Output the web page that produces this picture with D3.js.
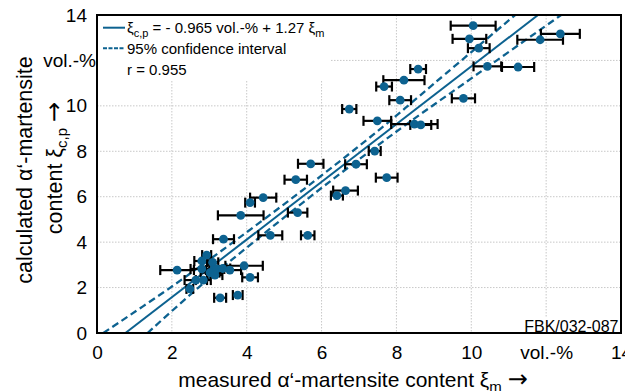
<!DOCTYPE html>
<html>
<head>
<meta charset="utf-8">
<script src="https://cdn.jsdelivr.net/npm/d3@7"></script>
<style>
  body { margin: 0; background: #fff; }
  svg text { font-family: "Liberation Sans", Arial, sans-serif; fill: #000; }
</style>
</head>
<body>
<div class="app"></div>
<script>
// measured vs calculated a'-martensite content (vol.-%)
var measured    = [10.05, 9.95, 10.20, 12.38, 11.84, 10.43, 11.25, 8.58, 8.20, 7.67,
                   8.10, 9.79, 6.74, 7.49, 8.48, 8.65, 7.42, 5.71, 6.92, 7.74,
                   6.64, 6.41, 5.31, 4.44, 4.09, 3.84, 5.36, 4.63, 5.63, 3.38,
                   2.14, 2.93, 2.80, 3.09, 2.80, 3.11, 3.02, 3.20, 3.36, 3.55,
                   3.93, 4.09, 2.64, 2.84, 2.48, 3.29, 3.76, 3.15];
var calculated  = [13.53, 12.95, 12.54, 13.17, 12.91, 11.74, 11.71, 11.62, 11.13, 10.85,
                   10.25, 10.33, 9.86, 9.34, 9.20, 9.16, 8.01, 7.45, 7.43, 6.84,
                   6.27, 6.05, 6.75, 5.96, 5.74, 5.18, 5.30, 4.30, 4.30, 4.13,
                   2.77, 3.43, 3.17, 3.11, 2.82, 2.77, 2.66, 2.82, 2.84, 2.77,
                   2.96, 2.45, 2.33, 2.33, 1.94, 1.55, 1.67, 2.55];
var errMeasured = [0.60, 0.45, 0.29, 0.52, 0.61, 0.37, 0.43, 0.21, 0.55, 0.21,
                   0.29, 0.31, 0.19, 0.37, 0.62, 0.28, 0.16, 0.34, 0.29, 0.29,
                   0.33, 0.16, 0.30, 0.35, 0.13, 0.61, 0.26, 0.32, 0.18, 0.28,
                   0.45, 0.12, 0.20, 0.15, 0.30, 0.20, 0.25, 0.20, 0.20, 0.30,
                   0.50, 0.21, 0.30, 0.20, 0.09, 0.16, 0.13, 0.20];

var tickValues = [0, 2, 4, 6, 8, 10, 12, 14];
var tickLabels = ["0", "2", "4", "6", "8", "10", "vol.-%", "14"];

// regression line from the legend
var fitIntercept = -0.965, fitSlope = 1.27;

// dashed 95% band: [measured, calculated]
var bandUpper = [[0.17, 0], [1.96, 2], [3.64, 4], [5.66, 6.5], [7.58, 9], [9.02, 11], [11.17, 14]];
var bandLower = [[1.35, 0], [2.71, 2], [4.18, 4], [6.09, 6.5], [8.11, 9], [9.82, 11], [12.40, 14]];

var blue = "#0d6290";
var font = "Liberation Sans, Arial, sans-serif";

var margin = {top: 15, left: 97},
    width = 524,
    height = 318;

var x = d3.scaleLinear().domain([0, 14]).range([0, width]);
var y = d3.scaleLinear().domain([0, 14]).range([height, 0]);

var svg = d3.select(".app").append("svg")
    .attr("width", 625)
    .attr("height", 391);

svg.append("rect").attr("width", 625).attr("height", 391).attr("fill", "#fff");

var g = svg.append("g")
    .attr("transform", "translate(" + margin.left + "," + margin.top + ")");

g.append("clipPath").attr("id", "plotclip")
  .append("rect").attr("width", width).attr("height", height);

// grid
var inner = tickValues.slice(1, -1);
g.append("g").selectAll("line").data(inner).enter().append("line")
    .attr("x1", function(d) { return x(d); }).attr("x2", function(d) { return x(d); })
    .attr("y1", 0).attr("y2", height)
    .attr("stroke", "#c8c8c8").attr("stroke-dasharray", "1.5,1.5");
g.append("g").selectAll("line").data(inner).enter().append("line")
    .attr("y1", function(d) { return y(d); }).attr("y2", function(d) { return y(d); })
    .attr("x1", 0).attr("x2", width)
    .attr("stroke", "#c8c8c8").attr("stroke-dasharray", "1.5,1.5");

// axes (labels only)
var xAxis = g.append("g")
    .attr("transform", "translate(0," + height + ")")
    .call(d3.axisBottom(x).tickValues(tickValues)
      .tickFormat(function(d, i) { return tickLabels[i]; })
      .tickSize(0).tickPadding(12.5));
var yAxis = g.append("g")
    .call(d3.axisLeft(y).tickValues(tickValues)
      .tickFormat(function(d, i) { return tickLabels[i]; })
      .tickSize(0).tickPadding(10));
[xAxis, yAxis].forEach(function(a) {
  a.select(".domain").remove();
  a.selectAll("text").attr("font-size", 19).attr("font-family", font).attr("fill", "#000");
});
yAxis.selectAll("text").filter(function(d) { return d === 12; }).attr("x", -1);

// lines
var plot = g.append("g").attr("clip-path", "url(#plotclip)");
var band = d3.line()
    .x(function(d) { return x(d[0]); })
    .y(function(d) { return y(d[1]); })
    .curve(d3.curveCatmullRom);
[bandUpper, bandLower].forEach(function(b) {
  plot.append("path").datum(b)
      .attr("d", band)
      .attr("fill", "none").attr("stroke", blue)
      .attr("stroke-width", 2.3).attr("stroke-dasharray", "7,4");
});
plot.append("line")
    .attr("x1", x((0 - fitIntercept) / fitSlope)).attr("y1", y(0))
    .attr("x2", x((14 - fitIntercept) / fitSlope)).attr("y2", y(14))
    .attr("stroke", blue).attr("stroke-width", 2);

// error bars
var bars = plot.append("g").selectAll("g").data(measured).enter().append("g")
    .attr("stroke", "#000").attr("stroke-width", 2.2);
bars.append("line")
    .attr("x1", function(d, i) { return x(d - errMeasured[i]); })
    .attr("x2", function(d, i) { return x(d + errMeasured[i]); })
    .attr("y1", function(d, i) { return y(calculated[i]); })
    .attr("y2", function(d, i) { return y(calculated[i]); });
[-1, 1].forEach(function(s) {
  bars.append("line")
      .attr("x1", function(d, i) { return x(d + s * errMeasured[i]); })
      .attr("x2", function(d, i) { return x(d + s * errMeasured[i]); })
      .attr("y1", function(d, i) { return y(calculated[i]) - 5; })
      .attr("y2", function(d, i) { return y(calculated[i]) + 5; });
});

// points
plot.append("g").selectAll("circle").data(measured).enter().append("circle")
    .attr("cx", function(d) { return x(d); })
    .attr("cy", function(d, i) { return y(calculated[i]); })
    .attr("r", 4.4)
    .attr("fill", blue);

// legend
var legend = g.append("g");
legend.append("rect").attr("x", 0).attr("y", 0).attr("width", 234).attr("height", 65).attr("fill", "#fff");
legend.append("line").attr("x1", 6).attr("x2", 28).attr("y1", 12.7).attr("y2", 12.7)
    .attr("stroke", blue).attr("stroke-width", 2);
legend.append("line").attr("x1", 6).attr("x2", 28).attr("y1", 33.3).attr("y2", 33.3)
    .attr("stroke", blue).attr("stroke-width", 2).attr("stroke-dasharray", "4,1.5");
var l1 = legend.append("text").attr("x", 30).attr("y", 18).attr("font-size", 15);
l1.append("tspan").text("ξ");
l1.append("tspan").attr("dy", 4).attr("font-size", 11).text("c,p");
l1.append("tspan").attr("dy", -4).text(" = - 0.965 vol.-% + 1.27 ξ");
l1.append("tspan").attr("dy", 4).attr("font-size", 11).text("m");
legend.append("text").attr("x", 30).attr("y", 39).attr("font-size", 15).text("95% confidence interval");
legend.append("text").attr("x", 30).attr("y", 60).attr("font-size", 15).text("r = 0.955");

// id label
g.append("rect").attr("x", width - 100).attr("y", height - 15).attr("width", 100).attr("height", 15).attr("fill", "#fff");
g.append("text").attr("x", width - 2.5).attr("y", height - 1.5)
    .attr("text-anchor", "end").attr("font-size", 16).text("FBK/032-087");

// frame
g.append("rect").attr("width", width).attr("height", height)
    .attr("fill", "none").attr("stroke", "#000").attr("stroke-width", 2);

// axis titles
var xt = svg.append("text").attr("x", 353).attr("y", 386.5)
    .attr("text-anchor", "middle").attr("font-size", 21);
xt.append("tspan").text("measured α‘-martensite content ξ");
xt.append("tspan").attr("dy", 5).attr("font-size", 15).text("m");
xt.append("tspan").attr("dy", -5).text(" ");
xt.append("tspan").attr("font-family", "DejaVu Sans").attr("font-size", 24).text("→");

var yt = svg.append("g").attr("transform", "rotate(-90)");
yt.append("text").attr("x", -170).attr("y", 32)
    .attr("text-anchor", "middle").attr("font-size", 21.5)
    .text("calculated α‘-martensite");
var yt2 = yt.append("text").attr("x", -168).attr("y", 62)
    .attr("text-anchor", "middle").attr("font-size", 21.5);
yt2.append("tspan").text("content ξ");
yt2.append("tspan").attr("dy", 5).attr("font-size", 15).text("c,p");
yt2.append("tspan").attr("dy", -5).text(" ");
yt2.append("tspan").attr("font-family", "DejaVu Sans").attr("font-size", 24).text("→");
</script>
</body>
</html>
